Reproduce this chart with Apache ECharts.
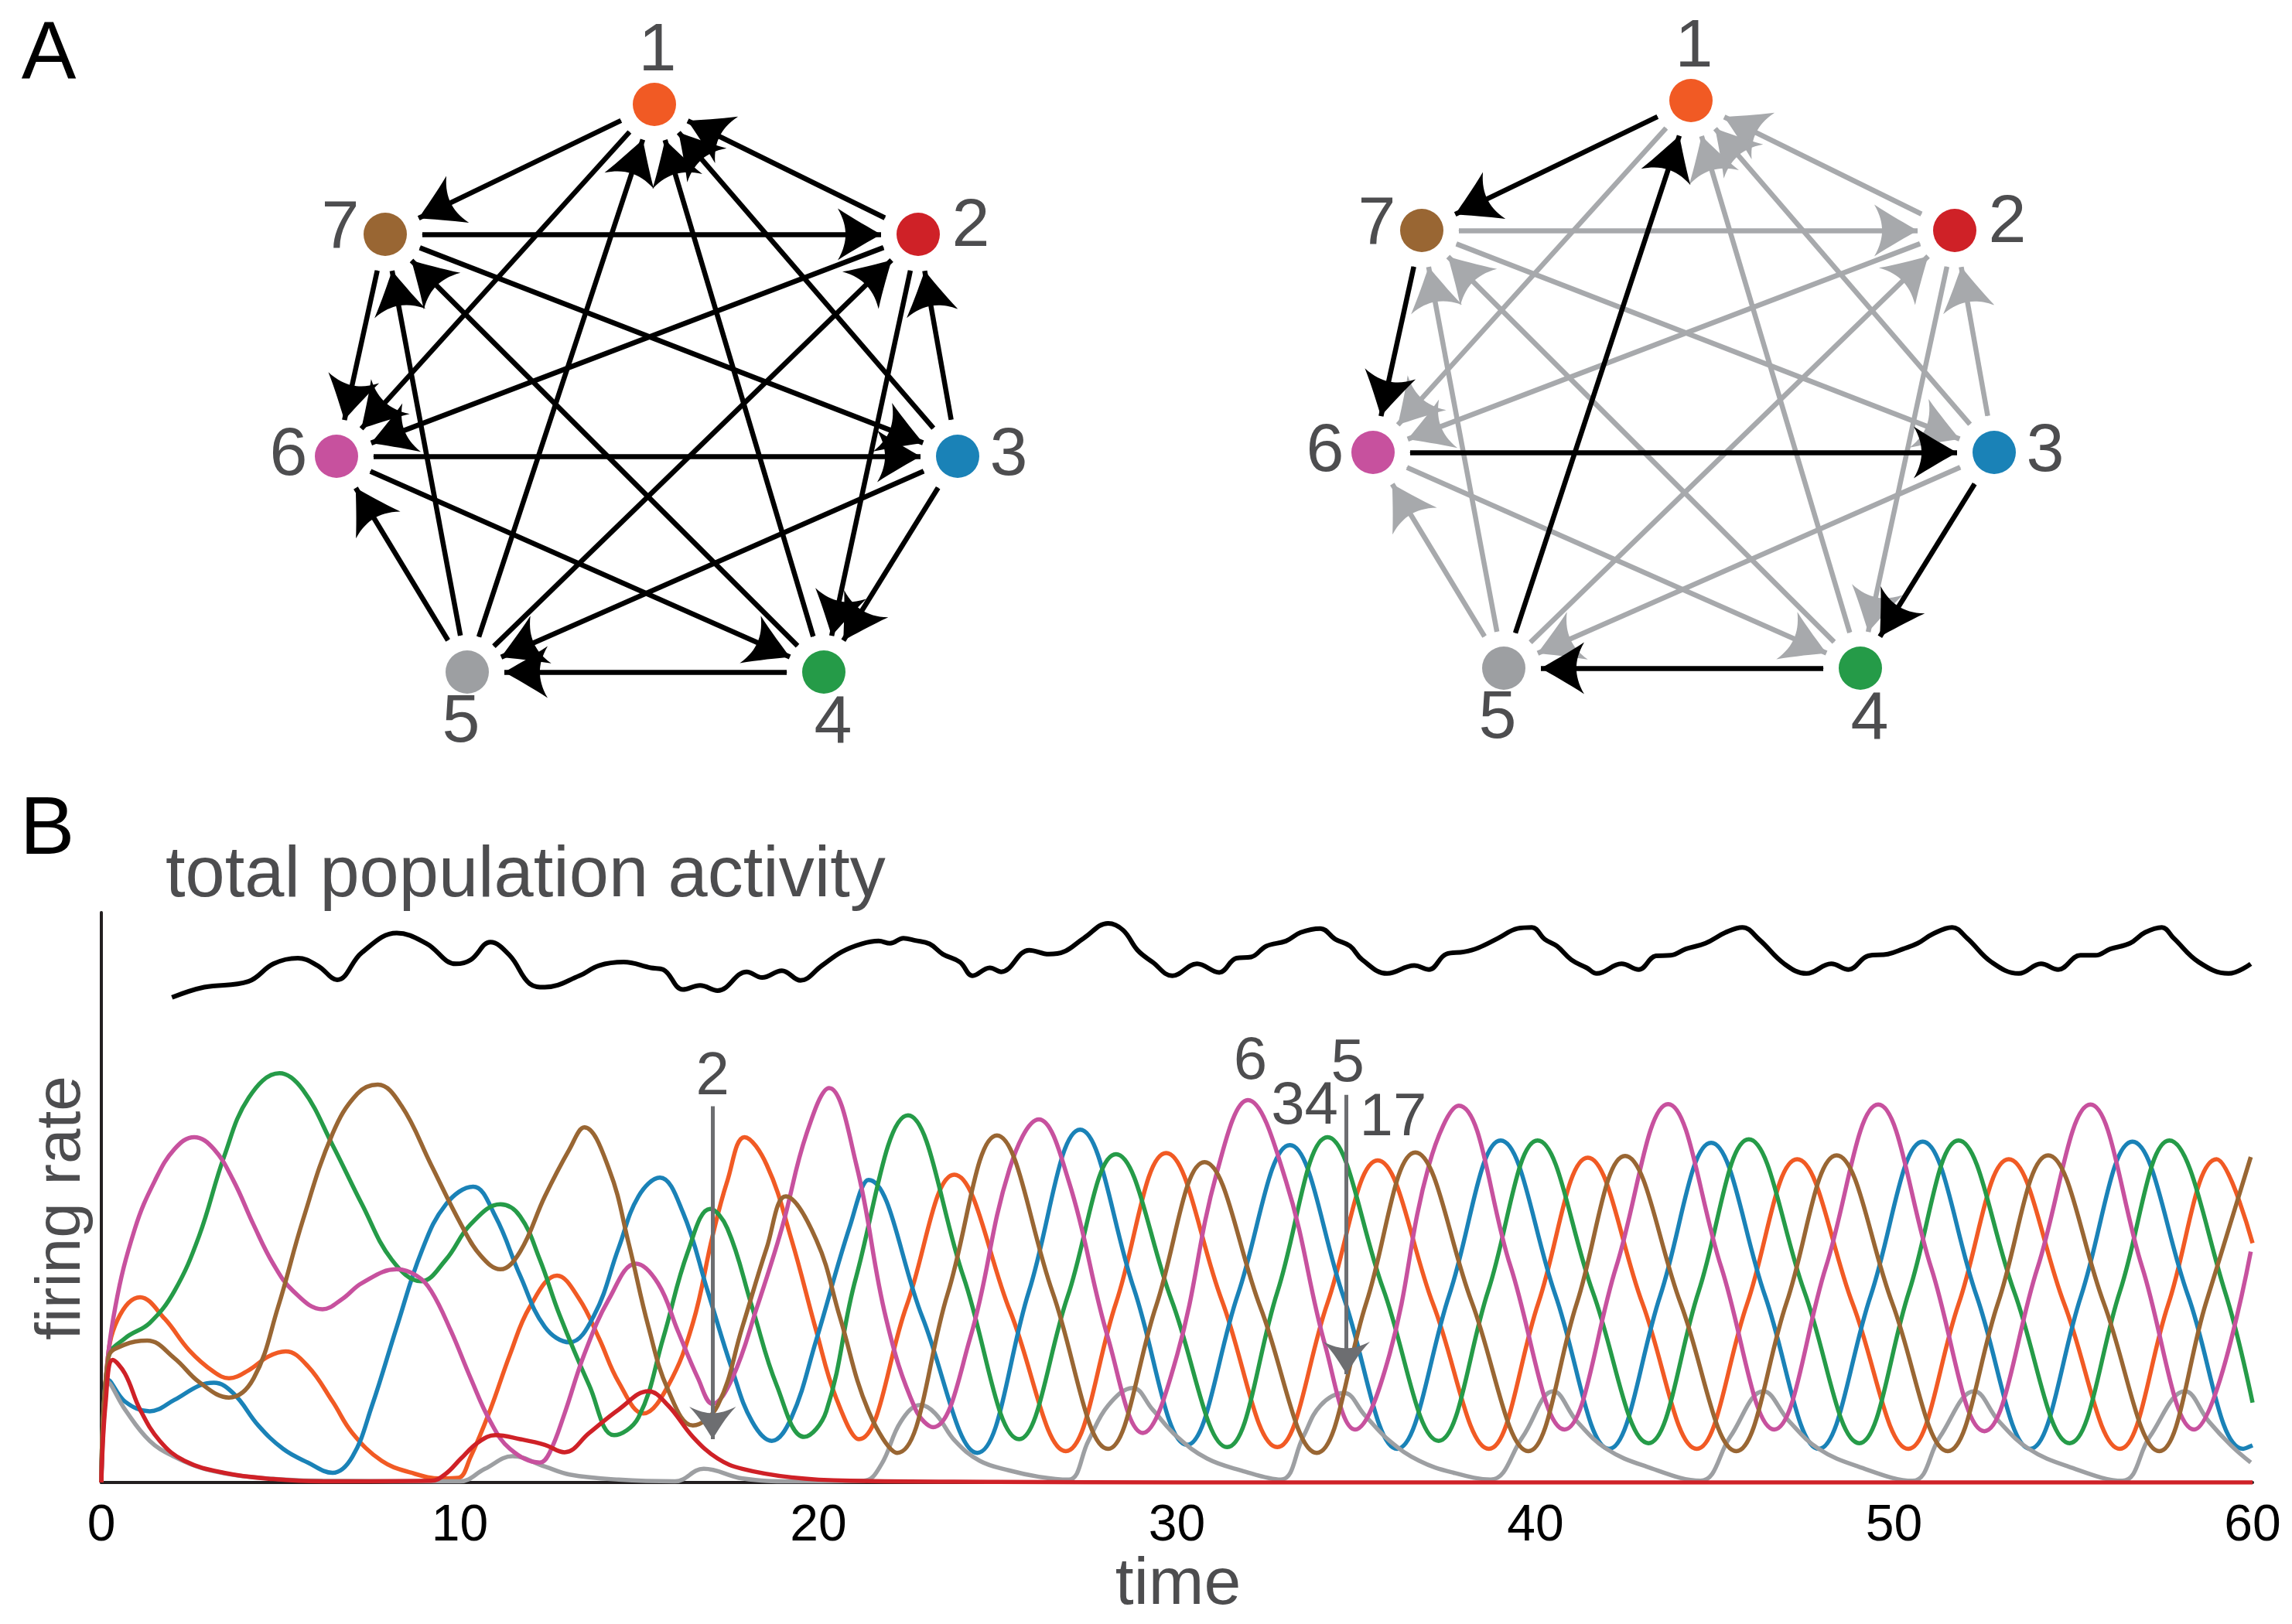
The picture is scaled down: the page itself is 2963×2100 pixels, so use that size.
<!DOCTYPE html>
<html><head><meta charset="utf-8">
<script src="https://cdn.jsdelivr.net/npm/echarts@6/dist/echarts.min.js"></script>
<style>html,body{margin:0;padding:0;background:#fff}#c{width:2963px;height:2100px}</style>
</head><body><div id="c"></div>
<script>
// ---------------- DATA ----------------
const nodeNames = ['1','2','3','4','5','6','7'];
const nodeColors = ['#F15A24','#CF2127','#1A82B7','#259B48','#9D9FA2','#C7519E','#996633'];
// node layout (graph units, y up)
const nodeX = [4, 345, 396, 223, -238, -407, -344];
const nodeY = [365, 197, -90, -369, -369, -90, 197];
// directed edges (source -> target)
const edges = [[1,7],[1,6],[2,1],[2,6],[2,4],[3,1],[3,2],[3,5],[3,4],[4,1],[4,7],[4,5],
               [5,6],[5,7],[5,1],[5,2],[6,3],[6,4],[7,2],[7,3],[7,6]];
const activeCycle = [[1,7],[7,6],[6,3],[3,4],[4,5],[5,1]];
const timeTicks = [0,10,20,30,40,50,60];

const total = [[1.97,85.1],[2.87,86.9],[4.1,87.9],[4.8,91],[5.48,92],[6.03,90.7],[6.58,88.2],[7.27,93],[8.24,96.4],[9.06,94.6],[9.89,91],[10.3,91.7],[10.85,94.8],[11.4,92.4],[11.95,87.5],[12.37,86.9],[13.33,88.9],[13.88,90.7],[14.57,91.3],[15.33,90.3],[15.67,90],[16.22,86.5],[16.7,87.2],[17.19,86.3],[18.0,89.6],[18.43,88.6],[18.98,89.8],[19.5,88.1],[20.1,90.7],[20.65,93.1],[21.2,94.5],[21.68,95],[22.0,94.6],[22.37,95.5],[22.7,95.1],[23.1,94.5],[23.47,92.7],[23.95,91.3],[24.3,88.9],[24.78,90.3],[25.1,89.6],[25.88,93.4],[26.43,92.7],[26.84,93.1],[27.4,95.5],[28.08,98.1],[28.5,96.9],[28.9,93.4],[29.32,91.3],[29.87,88.9],[30.56,91],[31.18,89.5],[31.66,92],[32.07,92.2],[32.49,94.1],[33.04,95],[33.45,96.5],[34.0,97.2],[34.42,95.3],[34.83,94.1],[35.17,91.7],[35.86,89.3],[36.62,90.7],[37.03,90],[37.51,92.7],[38.0,93.1],[38.4,93.8],[38.96,95.5],[39.5,97.2],[39.9,97.4],[40.26,95.3],[40.6,94.1],[41.0,91.7],[41.43,90.3],[41.71,89.3],[42.4,91],[42.88,90],[43.36,92.4],[43.77,92.5],[44.19,93.6],[44.74,94.6],[45.3,96.5],[45.77,97.4],[46.25,95.2],[46.94,91],[47.56,89.3],[48.25,91],[48.73,90],[49.28,92.4],[49.83,92.7],[50.25,93.6],[50.66,94.6],[51.07,96.2],[51.62,97.4],[52.04,95.5],[52.72,91.3],[53.48,89.3],[54.1,91],[54.58,90],[55.2,92.5],[55.62,92.5],[56.03,93.6],[56.58,94.6],[57.0,96.5],[57.47,97.4],[57.8,95.5],[58.5,91.3],[59.33,89.3],[59.95,91]];

const rate1 = [[0,0],[0.15,20],[0.45,28.5],[1.08,32.5],[1.77,28.7],[2.45,23.2],[3.14,19.4],[3.56,18.3],[4.11,19.7],[4.66,22.1],[5.14,23],[5.76,20.4],[6.45,14.2],[7.0,8.7],[7.82,3.8],[8.65,1.7],[9.48,0.7],[9.95,0.8],[10.3,4.5],[10.85,12.8],[11.4,22.5],[11.95,30.8],[12.71,36.3],[13.33,32.2],[13.88,25.3],[14.43,17.6],[15.12,12.1],[15.81,17],[16.5,28],[17.05,43.3],[17.46,52.9],[17.94,60.6],[18.56,55.7],[19.25,42.6],[19.94,26.6],[20.49,14.9],[21.13,7.6],[22.46,31],[23.79,54],[25.35,30],[26.9,5.5],[28.3,31.5],[29.7,57.8],[31.25,32],[32.8,6.2],[34.2,31.5],[35.6,56.5],[37.15,31.2],[38.7,5.9],[40.08,31.5],[41.46,57],[42.98,31.5],[44.5,5.9],[45.9,31.3],[47.3,56.7],[48.85,31.3],[50.4,5.9],[51.8,31.3],[53.2,56.7],[54.75,31.3],[56.3,5.9],[57.65,31.3],[59.0,56.7],[60,42]];

const rate2 = [[0,0],[0.12,14],[0.32,21.5],[0.66,19.1],[1.08,12.8],[1.63,7.3],[2.32,3.8],[3.42,1.7],[4.79,0.6],[6.17,0.2],[9.2,0.3],[9.6,1.5],[10.03,4.2],[10.5,7],[10.99,8.3],[11.68,7.6],[12.37,6.6],[12.92,5.3],[13.61,8.7],[14.43,12.8],[15.26,16],[15.81,13.5],[16.5,8],[17.19,4.2],[17.88,2.4],[19.25,0.9],[20.88,0.3],[25,0.1],[30,0],[60,0]];

const rate3 = [[0,0],[0.08,14],[0.18,18],[0.66,14.2],[1.35,12.5],[2.04,14.5],[2.73,17],[3.14,17.5],[3.69,15.6],[4.38,10],[5.07,5.9],[5.76,3.5],[6.45,1.7],[7.0,4.5],[7.55,13.5],[8.24,27.3],[8.93,40.5],[9.61,48.8],[10.37,51.9],[10.99,46.7],[11.68,36.3],[12.37,27.3],[13.06,24.6],[13.75,29.4],[14.43,41.2],[14.98,50.2],[15.58,53.5],[16.22,47.4],[16.91,33.6],[17.6,19.7],[18.15,10.7],[18.7,7.3],[19.25,11.4],[19.94,25],[20.88,45],[21.4,53.1],[22.9,29],[24.43,5.2],[25.87,33.5],[27.3,61.9],[28.8,34],[30.28,6.6],[31.7,33],[33.15,59.2],[34.65,32.5],[36.14,5.9],[37.6,33],[39.03,60],[40.55,33],[42.05,5.9],[43.48,32.8],[44.9,59.6],[46.4,32.8],[47.9,5.9],[49.35,32.8],[50.8,59.8],[52.3,32.8],[53.8,5.9],[55.22,32.8],[56.65,59.8],[58.2,32.8],[59.74,5.9],[60,6.5]];

const rate4 = [[0,0],[0.2,22],[0.66,25.3],[1.35,28],[2.04,33.6],[2.73,43.3],[3.42,57.1],[4.11,67.5],[4.97,71.8],[5.62,68.9],[6.45,59.2],[7.27,48.8],[8.1,39.1],[8.92,35.3],[9.61,39.1],[10.3,45.3],[11.13,48.8],[11.68,46.7],[12.23,39.1],[12.78,29.4],[13.61,17],[14.3,8.3],[14.98,11.4],[15.67,25.3],[16.36,40.5],[16.98,48],[17.46,44.6],[18.15,30.8],[18.84,17],[19.6,8],[20.22,12.5],[21.05,36],[22.5,64.4],[24.05,36],[25.6,7.6],[26.95,32.6],[28.3,57.6],[29.85,32],[31.4,6.2],[32.8,33.4],[34.2,60.6],[35.75,34],[37.3,7.3],[38.68,33.6],[40.06,60],[41.6,33.4],[43.15,6.9],[44.55,33.5],[45.95,60.2],[47.5,33.5],[49.03,6.9],[50.42,33.5],[51.8,60],[53.35,33.5],[54.9,6.9],[56.3,33.5],[57.68,60],[59.23,33.5],[60,14]];

const rate5 = [[0,0],[0.08,12],[0.18,17.6],[0.66,12.8],[1.35,7.3],[2.04,4.5],[2.87,2.4],[4.11,1.0],[6.17,0.3],[10.0,0.2],[10.7,2.4],[11.47,4.6],[12.37,2.8],[13.06,1.4],[14.43,0.5],[16.0,0.2],[16.8,2.4],[17.88,0.7],[19.25,0.2],[21.27,0.3],[21.75,3.1],[22.3,10.7],[22.85,13.6],[23.26,12.1],[23.81,7.3],[24.5,3.8],[25.33,2.1],[26.15,1.0],[26.98,0.5],[27.53,7.3],[28.08,13.5],[28.77,16.6],[29.32,12.8],[30.01,8.0],[30.84,4.2],[31.8,2.1],[32.9,0.5],[33.52,8],[34.0,13.5],[34.66,15.7],[35.24,11.8],[35.93,7.3],[36.76,3.8],[37.72,1.7],[38.75,0.5],[39.64,8],[40.5,16],[41.16,10.7],[41.98,5.9],[43.09,2.8],[44.6,0.3],[45.43,8],[46.36,16],[47.08,10.7],[47.9,5.9],[49.0,2.8],[50.52,0.3],[51.28,8],[52.24,16],[52.93,10.7],[53.76,5.9],[54.86,2.8],[56.37,0.3],[57.13,8],[58.12,16],[58.78,10.7],[59.4,6.5],[59.95,3.5]];

const rate6 = [[0,0],[0.1,16],[0.39,30.8],[0.94,44.6],[1.49,52.9],[2.04,58.5],[2.59,60.6],[3.14,58.5],[3.69,52.9],[4.24,45.3],[4.79,38.4],[5.35,33.6],[6.17,30.4],[6.72,32.2],[7.27,35],[8.24,37.4],[8.79,36.3],[9.2,33.6],[9.75,26.6],[10.3,18.3],[10.85,10.7],[11.4,5.9],[12.23,3.5],[12.5,5.2],[12.92,12.1],[13.47,22.5],[14.16,32.2],[14.91,38.4],[15.53,34.9],[16.08,26.6],[16.64,18.3],[17.05,13.8],[17.6,18.3],[18.29,30.8],[18.98,44.6],[19.67,61.2],[20.3,69.2],[21.06,55.7],[21.89,28.7],[22.71,12.8],[23.2,9.7],[24.23,25.3],[25.33,55],[26.15,63.7],[26.98,52.9],[28.08,25.3],[29.05,8.7],[30.01,22.5],[31.11,54.3],[31.98,67.1],[33.04,52.9],[34.14,23.9],[34.97,9.3],[35.93,22.5],[37.03,55.7],[37.86,66.1],[39.3,38],[40.81,9.3],[42.25,37.8],[43.7,66.4],[45.18,37.8],[46.66,9.3],[48.1,37.8],[49.56,66.3],[51.04,37.6],[52.52,9],[54.0,37.6],[55.48,66.3],[56.92,37.8],[58.37,9.3],[59.95,40.5]];

const rate7 = [[0,0],[0.2,22],[0.66,24.2],[1.28,24.9],[2.04,21.8],[2.73,17.6],[3.56,14.9],[4.25,18.3],[4.93,30.8],[5.62,46],[6.45,61.2],[7.14,68.2],[7.71,69.8],[8.37,66.1],[9.2,55.7],[10.03,45.3],[10.58,39.8],[11.13,37.4],[11.68,40.5],[12.37,50.2],[13.06,58.5],[13.47,62.3],[14.16,55],[14.71,41.9],[15.26,27.3],[15.81,16.2],[16.5,10],[17.19,13.5],[17.88,27.3],[18.56,41.2],[19.09,50.2],[19.94,42.6],[20.6,29],[21.4,12.5],[22.2,5.2],[23.6,33],[24.98,60.9],[26.53,33.4],[28.08,5.9],[29.42,31],[30.77,56.2],[32.33,30.7],[33.9,5.2],[35.28,31.5],[36.65,57.9],[38.22,31.7],[39.8,5.5],[41.15,31.4],[42.5,57.3],[44.05,31.4],[45.6,5.5],[47.0,31.5],[48.4,57.4],[49.95,31.5],[51.5,5.5],[52.9,31.5],[54.3,57.4],[55.85,31.5],[57.4,5.5],[58.7,31.5],[59.95,57.1]];

const rates = [rate1, rate2, rate3, rate4, rate5, rate6, rate7];

// annotation arrows (time, from-value, to-value) and labels (text, time, value)
const annArrows = [[17.05, 66, 7.6], [34.73, 68, 19]];
const annLabels = [['2',17.05,71.1],['6',32.05,73.7],['34',33.56,65.9],['5',34.76,73.4],['17',36.03,63.9]];

// ---------------- STYLE ----------------
const FONT = '"Liberation Sans", Arial, Helvetica, sans-serif';
const TXT = '#4d4d4f';
const GRAY_EDGE = '#a7a9ac';
const labelOffsets = [[4,-68],[68,-9],[66,0],[12,68],[-8,66],[-62,0],[-58,-6]];
// circle r=28 inside a 96 box (so edges stop short of the disc)
const nodeSymbol = 'path://M0,0 L0.01,0 Z M96,96 L95.99,96 Z M20,48 A28,28 0 1,1 76,48 A28,28 0 1,1 20,48 Z';
// barbed arrowhead with the tip at the box centre
const edgeArrow = 'path://M50,0 L50.01,0 Z M0,50 L0.01,50 Z M100,50 L99.99,50 Z M50,50 C57,62 68,82 80,100 C68,93 58,91 50,91 C42,91 32,93 20,100 C32,82 43,62 50,50 Z';
const annArrow = 'path://M50,0 L50.01,0 Z M0,50 L0.01,50 Z M100,50 L99.99,50 Z M50,50 C58,63 70,84 86,100 C72,93 60,90 50,90 C40,90 28,93 14,100 C30,84 42,63 50,50 Z';

function graphNodes() {
  return nodeNames.map((n, i) => ({
    name: n, value: [nodeX[i], nodeY[i]],
    itemStyle: { color: nodeColors[i] },
    label: { offset: labelOffsets[i] }
  }));
}
function isActive(e) { return activeCycle.some(c => c[0] === e[0] && c[1] === e[1]); }
function graphLinks(highlight) {
  let list = edges.map(e => ({ e, on: highlight ? isActive(e) : true }));
  list.sort((a, b) => (a.on ? 1 : 0) - (b.on ? 1 : 0));
  return list.map(o => ({
    source: String(o.e[0]), target: String(o.e[1]),
    lineStyle: { color: o.on ? '#000' : GRAY_EDGE }
  }));
}
function graphSeries(idx, highlight) {
  return {
    type: 'graph', layout: 'none', coordinateSystem: 'cartesian2d',
    xAxisIndex: idx, yAxisIndex: idx, silent: true, z: 3,
    symbol: nodeSymbol, symbolSize: 96,
    edgeSymbol: ['circle', edgeArrow], edgeSymbolSize: [1, 112],
    lineStyle: { width: 6.5, opacity: 1, curveness: 0 },
    label: { show: true, position: 'inside', formatter: '{b}', fontSize: 88, color: TXT, fontFamily: FONT },
    emphasis: { disabled: true },
    data: graphNodes(), links: graphLinks(highlight)
  };
}

const lineSeries = rates.map((d, i) => ({
  type: 'line', xAxisIndex: 0, yAxisIndex: 0, data: d, showSymbol: false, smooth: 0.4,
  lineStyle: { width: 5.5, color: nodeColors[i] }, itemStyle: { color: nodeColors[i] },
  silent: true, z: 2 + (i === 1 ? 1 : 0)
}));

const totalSeries = {
  type: 'line', xAxisIndex: 0, yAxisIndex: 0, data: total, showSymbol: false, smooth: 0.4,
  lineStyle: { width: 6, color: '#000' }, itemStyle: { color: '#000' }, silent: true, z: 4,
  markLine: {
    silent: true, animation: false, symbol: ['none', annArrow], symbolSize: 84,
    label: { show: false }, lineStyle: { color: '#6d6e71', width: 5, type: 'solid' },
    emphasis: { disabled: true },
    data: annArrows.map(a => [{ coord: [a[0], a[1]] }, { coord: [a[0], a[2]] }])
  },
  markPoint: {
    silent: true, animation: false, symbol: 'circle', symbolSize: 0,
    label: { show: true, position: 'inside', formatter: '{b}', fontSize: 78, color: TXT, fontFamily: FONT },
    data: annLabels.map(l => ({ name: l[0], coord: [l[1], l[2]] }))
  }
};

const chart = echarts.init(document.getElementById('c'), null, { renderer: 'canvas' });
chart.setOption({
  backgroundColor: '#fff', animation: false,
  grid: [
    { left: 131, right: 51, top: 1180, bottom: 183 },
    { left: 0, top: 0, width: 1480, height: 1050 },
    { left: 1340, top: 0, width: 1480, height: 1050 }
  ],
  xAxis: [
    { type: 'value', gridIndex: 0, min: timeTicks[0], max: timeTicks[timeTicks.length - 1], interval: 10,
      axisLine: { show: true, lineStyle: { color: '#231f20', width: 4 } }, axisTick: { show: false },
      splitLine: { show: false },
      axisLabel: { fontSize: 66, color: '#000', fontFamily: FONT, margin: 24 } },
    { type: 'value', gridIndex: 1, min: -842, max: 638, show: false },
    { type: 'value', gridIndex: 2, min: -842, max: 638, show: false }
  ],
  yAxis: [
    { type: 'value', gridIndex: 0, min: 0, max: 100,
      axisLine: { show: true, lineStyle: { color: '#231f20', width: 4 } }, axisTick: { show: false },
      axisLabel: { show: false }, splitLine: { show: false } },
    { type: 'value', gridIndex: 1, min: -550, max: 500, show: false },
    { type: 'value', gridIndex: 2, min: -555, max: 495, show: false }
  ],
  graphic: [
    { type: 'text', x: 63, y: 72, style: { text: 'A', font: '106px ' + FONT, fill: '#000', align: 'center', verticalAlign: 'middle', textAlign: 'center', textVerticalAlign: 'middle' } },
    { type: 'text', x: 61, y: 1075, style: { text: 'B', font: '106px ' + FONT, fill: '#000', align: 'center', verticalAlign: 'middle', textAlign: 'center', textVerticalAlign: 'middle' } },
    { type: 'text', x: 214, y: 1134, style: { text: 'total population activity', font: '92px ' + FONT, fill: TXT, align: 'left', verticalAlign: 'middle', textAlign: 'left', textVerticalAlign: 'middle' } },
    { type: 'text', x: 80, y: 1562, rotation: Math.PI / 2, style: { text: 'firing rate', font: '82px ' + FONT, fill: TXT, align: 'center', verticalAlign: 'middle', textAlign: 'center', textVerticalAlign: 'middle' } },
    { type: 'text', x: 1523, y: 2050, style: { text: 'time', font: '86px ' + FONT, fill: TXT, align: 'center', verticalAlign: 'middle', textAlign: 'center', textVerticalAlign: 'middle' } }
  ],
  series: [graphSeries(1, false), graphSeries(2, true)].concat(lineSeries, [totalSeries])
});
</script></body></html>
